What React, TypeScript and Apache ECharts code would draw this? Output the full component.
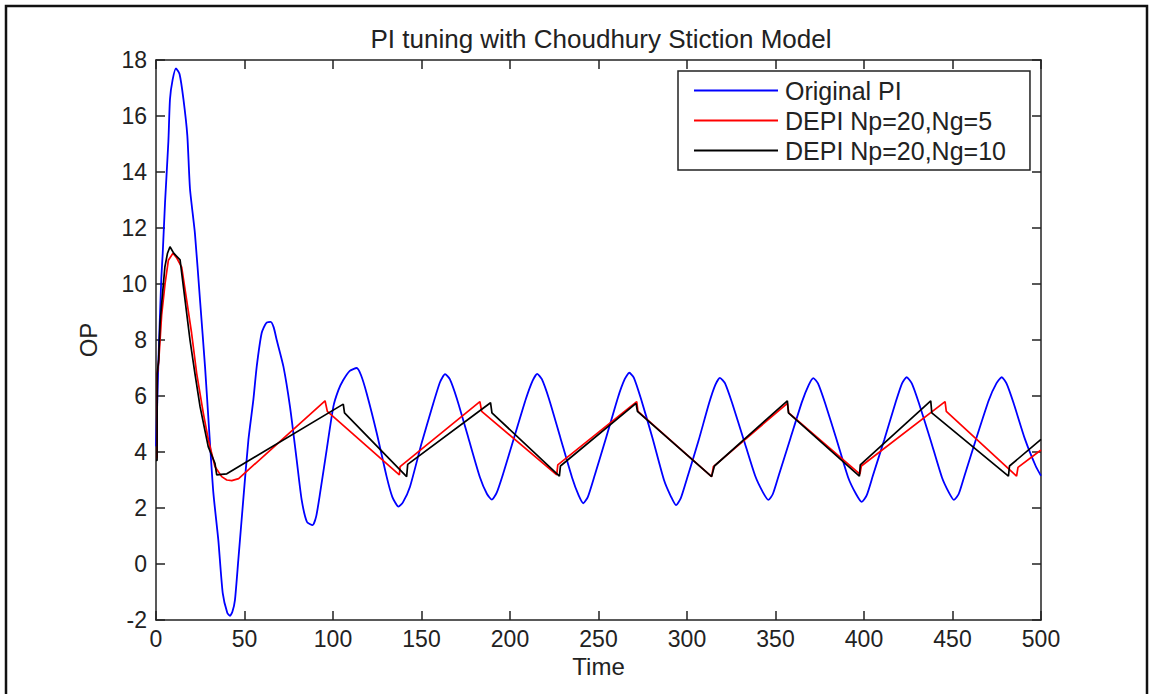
import React, { useEffect, useRef } from "react";
import * as echarts from "echarts";

const FONT = "'Liberation Sans', Arial, sans-serif";

const titleText = "PI tuning with Choudhury Stiction Model";
const seriesNames = ["Original PI", "DEPI Np=20,Ng=5", "DEPI Np=20,Ng=10"];
const xTicks = [0, 50, 100, 150, 200, 250, 300, 350, 400, 450, 500];
const yTicks = [-2, 0, 2, 4, 6, 8, 10, 12, 14, 16, 18];

// Original PI (blue)
const blueT = [0, 1.5, 3, 3.8, 5.1, 7, 7.9, 9.4, 11.3, 13.3, 15.5, 17.7, 19.2, 22, 24.9, 27.7, 30.1, 32.4, 35.2, 37.7, 40.3, 41.8, 43.2, 44.6, 46.5, 49.3, 52.2, 55, 56.9, 59.7, 62.2, 64.8, 66.5, 68.2, 72, 75.7, 79.5, 82.3, 85.3, 88.5, 90.5, 92.7, 96.4, 100.2, 103, 105.8, 109.5, 113.4, 115.8, 119, 124.7, 130.3, 133.5, 137, 139.5, 143.5, 150, 156, 160.5, 163.3, 166, 170, 176.5, 183, 187, 189.7, 192.5, 196, 202.5, 209, 212.8, 215.4, 218, 222, 228.5, 235, 238.8, 241.4, 244, 248, 254.5, 261, 264.8, 267.4, 270, 274, 280.5, 287, 291, 293.8, 296.5, 300, 306.5, 312.5, 316, 318.6, 321.5, 325.5, 332, 338.5, 343, 346, 348.5, 352, 358.5, 365, 368.8, 371.4, 374, 378, 384.5, 391, 395.5, 398.7, 401.5, 405, 411.5, 418, 421.5, 424.1, 427, 431, 437.5, 444, 448, 450.8, 453.5, 457, 463.5, 470.5, 474.8, 477.8, 480.5, 484.5, 491, 497, 500];
const blueV = [4.2, 7.5, 10.2, 11.1, 12.9, 15.1, 16.6, 17.3, 17.7, 17.5, 16.6, 15.3, 13.4, 11.8, 9.4, 7.05, 4.7, 2.55, 0.86, -1.04, -1.75, -1.85, -1.7, -1.29, 0.14, 2.29, 4.43, 5.86, 7.05, 8.25, 8.6, 8.65, 8.45, 8.0, 7.05, 5.62, 3.71, 2.29, 1.5, 1.39, 1.7, 2.53, 4.07, 5.62, 6.2, 6.57, 6.9, 7.0, 6.75, 6.1, 4.68, 3.12, 2.4, 2.05, 2.2, 2.76, 4.3, 5.6, 6.5, 6.78, 6.6, 5.9, 4.5, 3.1, 2.5, 2.3, 2.55, 3.2, 4.55, 5.9, 6.55, 6.79, 6.6, 5.9, 4.5, 3.1, 2.45, 2.17, 2.4, 3.2, 4.55, 5.95, 6.6, 6.83, 6.65, 5.9, 4.5, 3.0, 2.4, 2.1, 2.35, 3.05, 4.4, 5.75, 6.4, 6.65, 6.45, 5.75, 4.45, 3.15, 2.55, 2.29, 2.5, 3.2, 4.5, 5.8, 6.4, 6.64, 6.45, 5.75, 4.45, 3.1, 2.5, 2.22, 2.45, 3.15, 4.45, 5.8, 6.45, 6.67, 6.45, 5.75, 4.45, 3.1, 2.55, 2.29, 2.5, 3.2, 4.5, 5.85, 6.45, 6.67, 6.45, 5.75, 4.45, 3.5, 3.15];

// DEPI Np=20,Ng=5 (red)
const redT = [0, 0.6, 0.7, 1.5, 3.2, 5.1, 7, 9.6, 11.5, 14.5, 17.3, 20.1, 23, 26.7, 29.6, 33.3, 37.1, 40, 42.8, 46.7, 95.5, 96.8, 137.5, 137.9, 183, 184, 226.4, 227, 271.6, 272.3, 313.9, 314.9, 356.7, 357.5, 397.7, 398.5, 445.8, 446.5, 486.2, 487, 500];
const redV = [3.8, 3.8, 6.8, 7.2, 8.9, 10.0, 10.85, 11.1, 10.95, 10.6, 9.43, 8.25, 6.8, 5.4, 4.43, 3.48, 3.12, 3.0, 2.98, 3.05, 5.83, 5.45, 3.18, 3.48, 5.8, 5.45, 3.18, 3.54, 5.8, 5.45, 3.12, 3.48, 5.74, 5.4, 3.21, 3.5, 5.8, 5.45, 3.14, 3.45, 4.07];

// DEPI Np=20,Ng=10 (black)
const blackT = [0, 0.6, 0.7, 1.5, 2.3, 3.2, 5, 6.5, 7.9, 10, 13.6, 16.4, 19.2, 22, 24.9, 29.5, 33.3, 34.3, 37, 40, 105.8, 106.5, 141.6, 142.2, 189, 189.8, 227.9, 228.5, 271.2, 272, 313.9, 315.5, 356.7, 357.3, 397.4, 397.9, 437.7, 438.3, 481.6, 482.2, 500];
const blackV = [3.7, 3.7, 6.8, 7.3, 8.6, 9.3, 10.6, 11.1, 11.33, 11.1, 10.86, 9.43, 8.0, 6.8, 5.62, 4.19, 3.6, 3.18, 3.2, 3.22, 5.71, 5.4, 3.12, 3.56, 5.76, 5.4, 3.14, 3.5, 5.74, 5.45, 3.12, 3.5, 5.83, 5.4, 3.14, 3.54, 5.83, 5.4, 3.14, 3.5, 4.45];

const zip = (t: number[], v: number[]) => t.map((x, i) => [x, v[i]]);

export default function App() {
  const ref = useRef<HTMLDivElement>(null);
  useEffect(() => {
    if (!ref.current) return;
    const chart = echarts.init(ref.current, null, { renderer: "svg" });
    const axisLine = { show: true, onZero: false, lineStyle: { color: "#222", width: 1.5 } };
    const tick = { show: true, inside: true, length: 9, lineStyle: { color: "#222", width: 1.5 } };
    const labelStyle = { fontSize: 23, color: "#222", fontFamily: FONT };
    chart.setOption({
      animation: false,
      backgroundColor: "#fff",
      title: {
        text: titleText,
        left: 596,
        top: 21,
        textAlign: "center",
        textStyle: { fontSize: 26, fontWeight: "normal", color: "#222", fontFamily: FONT },
      },
      grid: { left: 156, top: 60, right: 108, bottom: 74, containLabel: false },
      legend: {
        orient: "vertical",
        left: 678,
        top: 71,
        padding: [7, 24, 7, 15],
        itemGap: 5,
        itemWidth: 84,
        itemHeight: 14,
        backgroundColor: "#fff",
        borderColor: "#222",
        borderWidth: 1.5,
        itemStyle: { opacity: 0 },
        textStyle: { fontSize: 25, color: "#222", fontFamily: FONT, padding: [0, 0, 0, 2] },
        data: seriesNames,
      },
      xAxis: [
        {
          type: "value",
          min: xTicks[0],
          max: xTicks[xTicks.length - 1],
          interval: xTicks[1] - xTicks[0],
          position: "bottom",
          axisLine,
          axisTick: tick,
          splitLine: { show: false },
          axisLabel: { ...labelStyle, margin: 7 },
          name: "Time",
          nameLocation: "middle",
          nameGap: 33,
          nameTextStyle: { fontSize: 24, color: "#222", fontFamily: FONT },
        },
        {
          type: "value",
          min: xTicks[0],
          max: xTicks[xTicks.length - 1],
          interval: xTicks[1] - xTicks[0],
          position: "top",
          axisLine,
          axisTick: tick,
          splitLine: { show: false },
          axisLabel: { show: false },
        },
      ],
      yAxis: [
        {
          type: "value",
          min: yTicks[0],
          max: yTicks[yTicks.length - 1],
          interval: yTicks[1] - yTicks[0],
          position: "left",
          axisLine,
          axisTick: tick,
          splitLine: { show: false },
          axisLabel: { ...labelStyle, margin: 9 },
          name: "OP",
          nameLocation: "middle",
          nameGap: 56,
          nameTextStyle: { fontSize: 24, color: "#222", fontFamily: FONT },
        },
        {
          type: "value",
          min: yTicks[0],
          max: yTicks[yTicks.length - 1],
          interval: yTicks[1] - yTicks[0],
          position: "right",
          axisLine,
          axisTick: tick,
          splitLine: { show: false },
          axisLabel: { show: false },
        },
      ],
      graphic: [
        {
          type: "rect",
          shape: { x: 6, y: 6, width: 1141, height: 720 },
          style: { fill: "none", stroke: "#111", lineWidth: 2.5 },
          silent: true,
        },
      ],
      series: [
        {
          name: seriesNames[0],
          type: "line",
          data: zip(blueT, blueV),
          symbol: "none",
          smooth: 0.2,
          lineStyle: { color: "#0000ff", width: 1.8 },
          itemStyle: { color: "#0000ff" },
        },
        {
          name: seriesNames[1],
          type: "line",
          data: zip(redT, redV),
          symbol: "none",
          lineStyle: { color: "#ff0000", width: 1.7 },
          itemStyle: { color: "#ff0000" },
        },
        {
          name: seriesNames[2],
          type: "line",
          data: zip(blackT, blackV),
          symbol: "none",
          lineStyle: { color: "#000000", width: 1.7 },
          itemStyle: { color: "#000000" },
        },
      ],
    });
    return () => chart.dispose();
  }, []);
  return (
    <div
      ref={ref}
      style={{ position: "absolute", left: 0, top: 0, width: 1149, height: 694 }}
    />
  );
}
